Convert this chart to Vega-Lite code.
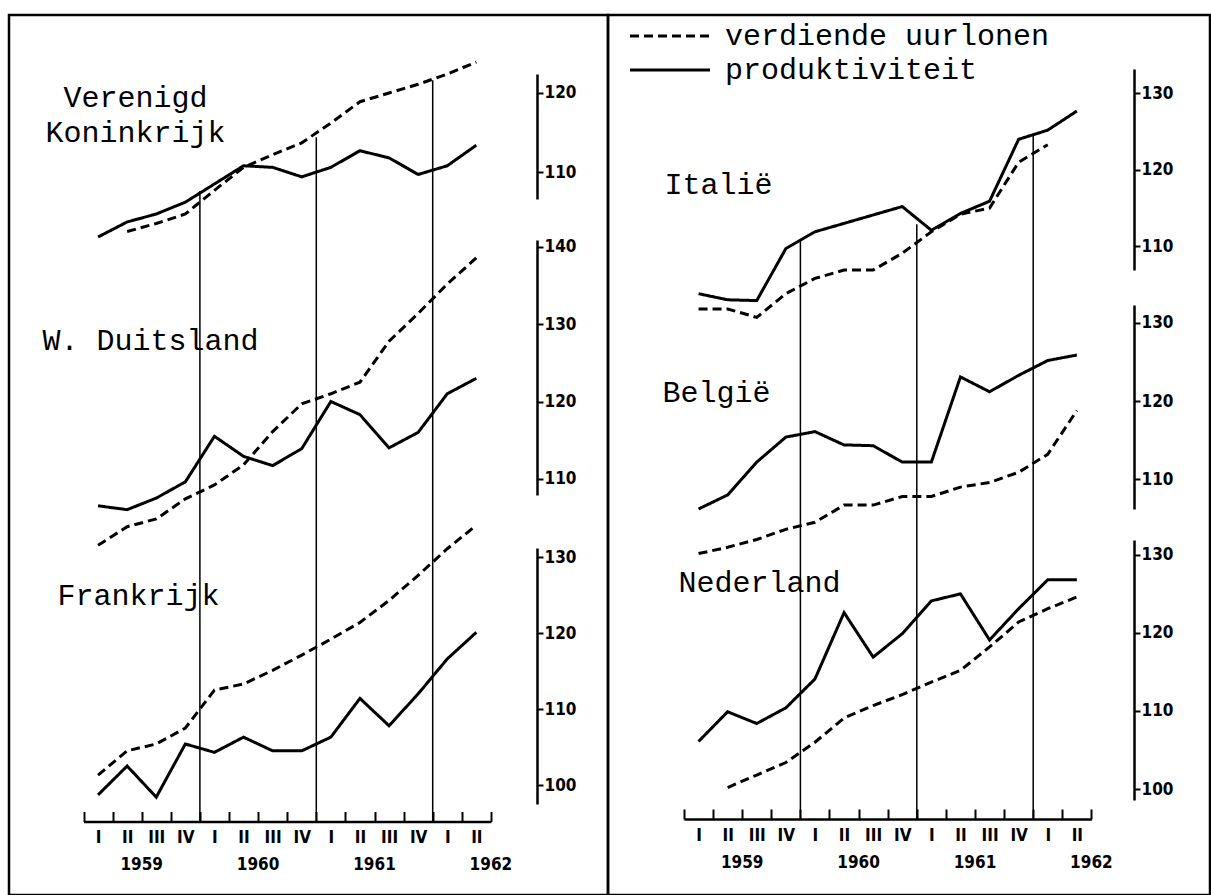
{
  "$schema": "https://vega.github.io/schema/vega-lite/v6.json",
  "background": "white",
  "padding": {"left": 7, "top": 13, "right": 0, "bottom": 0},
  "config": {
    "view": {"stroke": "black", "strokeWidth": 2.5},
    "axis": {"labelColor": "black", "domainColor": "black", "tickColor": "black", "titleColor": "black"},
    "font": "Liberation Mono"
  },
  "datasets": {
    "vk": [
      {"q": "1959-I", "series": "produktiviteit", "v": 101.8},
      {"q": "1959-II", "series": "produktiviteit", "v": 103.7},
      {"q": "1959-III", "series": "produktiviteit", "v": 104.7},
      {"q": "1959-IV", "series": "produktiviteit", "v": 106.2},
      {"q": "1960-I", "series": "produktiviteit", "v": 108.5},
      {"q": "1960-II", "series": "produktiviteit", "v": 110.8},
      {"q": "1960-III", "series": "produktiviteit", "v": 110.6},
      {"q": "1960-IV", "series": "produktiviteit", "v": 109.4},
      {"q": "1961-I", "series": "produktiviteit", "v": 110.6},
      {"q": "1961-II", "series": "produktiviteit", "v": 112.7},
      {"q": "1961-III", "series": "produktiviteit", "v": 111.8},
      {"q": "1961-IV", "series": "produktiviteit", "v": 109.7},
      {"q": "1962-I", "series": "produktiviteit", "v": 110.8},
      {"q": "1962-II", "series": "produktiviteit", "v": 113.4},
      {"q": "1959-II", "series": "verdiende uurlonen", "v": 102.5},
      {"q": "1959-III", "series": "verdiende uurlonen", "v": 103.5},
      {"q": "1959-IV", "series": "verdiende uurlonen", "v": 104.7},
      {"q": "1960-I", "series": "verdiende uurlonen", "v": 107.7},
      {"q": "1960-II", "series": "verdiende uurlonen", "v": 110.6},
      {"q": "1960-III", "series": "verdiende uurlonen", "v": 112.2},
      {"q": "1960-IV", "series": "verdiende uurlonen", "v": 113.7},
      {"q": "1961-I", "series": "verdiende uurlonen", "v": 116.2},
      {"q": "1961-II", "series": "verdiende uurlonen", "v": 118.9},
      {"q": "1961-III", "series": "verdiende uurlonen", "v": 120.0},
      {"q": "1961-IV", "series": "verdiende uurlonen", "v": 121.1},
      {"q": "1962-I", "series": "verdiende uurlonen", "v": 122.4},
      {"q": "1962-II", "series": "verdiende uurlonen", "v": 123.9}
    ],
    "wd": [
      {"q": "1959-I", "series": "produktiviteit", "v": 106.5},
      {"q": "1959-II", "series": "produktiviteit", "v": 106.0},
      {"q": "1959-III", "series": "produktiviteit", "v": 107.5},
      {"q": "1959-IV", "series": "produktiviteit", "v": 109.6},
      {"q": "1960-I", "series": "produktiviteit", "v": 115.5},
      {"q": "1960-II", "series": "produktiviteit", "v": 112.9},
      {"q": "1960-III", "series": "produktiviteit", "v": 111.7},
      {"q": "1960-IV", "series": "produktiviteit", "v": 113.9},
      {"q": "1961-I", "series": "produktiviteit", "v": 120.0},
      {"q": "1961-II", "series": "produktiviteit", "v": 118.3},
      {"q": "1961-III", "series": "produktiviteit", "v": 114.0},
      {"q": "1961-IV", "series": "produktiviteit", "v": 116.0},
      {"q": "1962-I", "series": "produktiviteit", "v": 121.0},
      {"q": "1962-II", "series": "produktiviteit", "v": 123.0},
      {"q": "1959-I", "series": "verdiende uurlonen", "v": 101.4},
      {"q": "1959-II", "series": "verdiende uurlonen", "v": 103.8},
      {"q": "1959-III", "series": "verdiende uurlonen", "v": 104.8},
      {"q": "1959-IV", "series": "verdiende uurlonen", "v": 107.4},
      {"q": "1960-I", "series": "verdiende uurlonen", "v": 109.2},
      {"q": "1960-II", "series": "verdiende uurlonen", "v": 111.8},
      {"q": "1960-III", "series": "verdiende uurlonen", "v": 116.1},
      {"q": "1960-IV", "series": "verdiende uurlonen", "v": 119.7},
      {"q": "1961-I", "series": "verdiende uurlonen", "v": 121.0},
      {"q": "1961-II", "series": "verdiende uurlonen", "v": 122.5},
      {"q": "1961-III", "series": "verdiende uurlonen", "v": 127.8},
      {"q": "1961-IV", "series": "verdiende uurlonen", "v": 131.4},
      {"q": "1962-I", "series": "verdiende uurlonen", "v": 135.2},
      {"q": "1962-II", "series": "verdiende uurlonen", "v": 138.6}
    ],
    "fr": [
      {"q": "1959-I", "series": "produktiviteit", "v": 98.7},
      {"q": "1959-II", "series": "produktiviteit", "v": 102.5},
      {"q": "1959-III", "series": "produktiviteit", "v": 98.4},
      {"q": "1959-IV", "series": "produktiviteit", "v": 105.4},
      {"q": "1960-I", "series": "produktiviteit", "v": 104.3},
      {"q": "1960-II", "series": "produktiviteit", "v": 106.3},
      {"q": "1960-III", "series": "produktiviteit", "v": 104.5},
      {"q": "1960-IV", "series": "produktiviteit", "v": 104.5},
      {"q": "1961-I", "series": "produktiviteit", "v": 106.3},
      {"q": "1961-II", "series": "produktiviteit", "v": 111.4},
      {"q": "1961-III", "series": "produktiviteit", "v": 107.8},
      {"q": "1961-IV", "series": "produktiviteit", "v": 112.0},
      {"q": "1962-I", "series": "produktiviteit", "v": 116.6},
      {"q": "1962-II", "series": "produktiviteit", "v": 120.1},
      {"q": "1959-I", "series": "verdiende uurlonen", "v": 101.3},
      {"q": "1959-II", "series": "verdiende uurlonen", "v": 104.5},
      {"q": "1959-III", "series": "verdiende uurlonen", "v": 105.4},
      {"q": "1959-IV", "series": "verdiende uurlonen", "v": 107.5},
      {"q": "1960-I", "series": "verdiende uurlonen", "v": 112.5},
      {"q": "1960-II", "series": "verdiende uurlonen", "v": 113.3},
      {"q": "1960-III", "series": "verdiende uurlonen", "v": 115.1},
      {"q": "1960-IV", "series": "verdiende uurlonen", "v": 117.1},
      {"q": "1961-I", "series": "verdiende uurlonen", "v": 119.2},
      {"q": "1961-II", "series": "verdiende uurlonen", "v": 121.4},
      {"q": "1961-III", "series": "verdiende uurlonen", "v": 124.3},
      {"q": "1961-IV", "series": "verdiende uurlonen", "v": 127.6},
      {"q": "1962-I", "series": "verdiende uurlonen", "v": 131.1},
      {"q": "1962-II", "series": "verdiende uurlonen", "v": 134.2}
    ],
    "it": [
      {"q": "1959-I", "series": "produktiviteit", "v": 103.8},
      {"q": "1959-II", "series": "produktiviteit", "v": 103.0},
      {"q": "1959-III", "series": "produktiviteit", "v": 102.9},
      {"q": "1959-IV", "series": "produktiviteit", "v": 109.7},
      {"q": "1960-I", "series": "produktiviteit", "v": 111.9},
      {"q": "1960-II", "series": "produktiviteit", "v": 113.0},
      {"q": "1960-III", "series": "produktiviteit", "v": 114.1},
      {"q": "1960-IV", "series": "produktiviteit", "v": 115.2},
      {"q": "1961-I", "series": "produktiviteit", "v": 112.1},
      {"q": "1961-II", "series": "produktiviteit", "v": 114.3},
      {"q": "1961-III", "series": "produktiviteit", "v": 115.9},
      {"q": "1961-IV", "series": "produktiviteit", "v": 124.0},
      {"q": "1962-I", "series": "produktiviteit", "v": 125.2},
      {"q": "1962-II", "series": "produktiviteit", "v": 127.7},
      {"q": "1959-I", "series": "verdiende uurlonen", "v": 101.8},
      {"q": "1959-II", "series": "verdiende uurlonen", "v": 101.8},
      {"q": "1959-III", "series": "verdiende uurlonen", "v": 100.7},
      {"q": "1959-IV", "series": "verdiende uurlonen", "v": 103.8},
      {"q": "1960-I", "series": "verdiende uurlonen", "v": 105.8},
      {"q": "1960-II", "series": "verdiende uurlonen", "v": 106.9},
      {"q": "1960-III", "series": "verdiende uurlonen", "v": 106.9},
      {"q": "1960-IV", "series": "verdiende uurlonen", "v": 109.1},
      {"q": "1961-I", "series": "verdiende uurlonen", "v": 111.9},
      {"q": "1961-II", "series": "verdiende uurlonen", "v": 114.2},
      {"q": "1961-III", "series": "verdiende uurlonen", "v": 115.0},
      {"q": "1961-IV", "series": "verdiende uurlonen", "v": 121.0},
      {"q": "1962-I", "series": "verdiende uurlonen", "v": 123.3}
    ],
    "be": [
      {"q": "1959-I", "series": "produktiviteit", "v": 106.2},
      {"q": "1959-II", "series": "produktiviteit", "v": 108.0},
      {"q": "1959-III", "series": "produktiviteit", "v": 112.2},
      {"q": "1959-IV", "series": "produktiviteit", "v": 115.4},
      {"q": "1960-I", "series": "produktiviteit", "v": 116.1},
      {"q": "1960-II", "series": "produktiviteit", "v": 114.4},
      {"q": "1960-III", "series": "produktiviteit", "v": 114.3},
      {"q": "1960-IV", "series": "produktiviteit", "v": 112.2},
      {"q": "1961-I", "series": "produktiviteit", "v": 112.2},
      {"q": "1961-II", "series": "produktiviteit", "v": 123.1},
      {"q": "1961-III", "series": "produktiviteit", "v": 121.2},
      {"q": "1961-IV", "series": "produktiviteit", "v": 123.3},
      {"q": "1962-I", "series": "produktiviteit", "v": 125.2},
      {"q": "1962-II", "series": "produktiviteit", "v": 125.9},
      {"q": "1959-I", "series": "verdiende uurlonen", "v": 100.5},
      {"q": "1959-II", "series": "verdiende uurlonen", "v": 101.3},
      {"q": "1959-III", "series": "verdiende uurlonen", "v": 102.3},
      {"q": "1959-IV", "series": "verdiende uurlonen", "v": 103.6},
      {"q": "1960-I", "series": "verdiende uurlonen", "v": 104.5},
      {"q": "1960-II", "series": "verdiende uurlonen", "v": 106.7},
      {"q": "1960-III", "series": "verdiende uurlonen", "v": 106.7},
      {"q": "1960-IV", "series": "verdiende uurlonen", "v": 107.8},
      {"q": "1961-I", "series": "verdiende uurlonen", "v": 107.8},
      {"q": "1961-II", "series": "verdiende uurlonen", "v": 109.0},
      {"q": "1961-III", "series": "verdiende uurlonen", "v": 109.6},
      {"q": "1961-IV", "series": "verdiende uurlonen", "v": 110.9},
      {"q": "1962-I", "series": "verdiende uurlonen", "v": 113.2},
      {"q": "1962-II", "series": "verdiende uurlonen", "v": 118.8}
    ],
    "nl": [
      {"q": "1959-I", "series": "produktiviteit", "v": 106.1},
      {"q": "1959-II", "series": "produktiviteit", "v": 109.9},
      {"q": "1959-III", "series": "produktiviteit", "v": 108.4},
      {"q": "1959-IV", "series": "produktiviteit", "v": 110.4},
      {"q": "1960-I", "series": "produktiviteit", "v": 114.1},
      {"q": "1960-II", "series": "produktiviteit", "v": 122.6},
      {"q": "1960-III", "series": "produktiviteit", "v": 116.9},
      {"q": "1960-IV", "series": "produktiviteit", "v": 119.9},
      {"q": "1961-I", "series": "produktiviteit", "v": 124.1},
      {"q": "1961-II", "series": "produktiviteit", "v": 125.0},
      {"q": "1961-III", "series": "produktiviteit", "v": 119.1},
      {"q": "1961-IV", "series": "produktiviteit", "v": 123.1},
      {"q": "1962-I", "series": "produktiviteit", "v": 126.8},
      {"q": "1962-II", "series": "produktiviteit", "v": 126.8},
      {"q": "1959-II", "series": "verdiende uurlonen", "v": 100.2},
      {"q": "1959-III", "series": "verdiende uurlonen", "v": 101.8},
      {"q": "1959-IV", "series": "verdiende uurlonen", "v": 103.4},
      {"q": "1960-I", "series": "verdiende uurlonen", "v": 106.0},
      {"q": "1960-II", "series": "verdiende uurlonen", "v": 109.1},
      {"q": "1960-III", "series": "verdiende uurlonen", "v": 110.7},
      {"q": "1960-IV", "series": "verdiende uurlonen", "v": 112.1},
      {"q": "1961-I", "series": "verdiende uurlonen", "v": 113.7},
      {"q": "1961-II", "series": "verdiende uurlonen", "v": 115.2},
      {"q": "1961-III", "series": "verdiende uurlonen", "v": 118.2},
      {"q": "1961-IV", "series": "verdiende uurlonen", "v": 121.4},
      {"q": "1962-I", "series": "verdiende uurlonen", "v": 123.1},
      {"q": "1962-II", "series": "verdiende uurlonen", "v": 124.6}
    ],
    "rl": [
      {"q": "1960-I", "top": 107.6},
      {"q": "1961-I", "top": 114.4},
      {"q": "1962-I", "top": 121.6}
    ],
    "rr": [
      {"q": "1960-I", "top": 110.8},
      {"q": "1961-I", "top": 112.9},
      {"q": "1962-I", "top": 124.6}
    ]
  },
  "hconcat": [
    {
      "width": 599,
      "height": 880,
      "resolve": {"scale": {"y": "independent"}, "axis": {"x": "independent"}},
      "layer": [
        {
          "data": {"name": "vk"},
          "mark": {"type": "line", "color": "black", "strokeWidth": 3, "strokeCap": "butt"},
          "encoding": {
            "x": {"field": "q", "type": "ordinal", "scale": {"type": "band", "domain": ["1959-I","1959-II","1959-III","1959-IV","1960-I","1960-II","1960-III","1960-IV","1961-I","1961-II","1961-III","1961-IV","1962-I","1962-II"], "range": [74.5, 481.9], "paddingInner": 0, "paddingOuter": 0}, "axis": {"orient": "bottom", "offset": -73.5, "tickBand": "extent", "tickSize": -10, "tickWidth": 2, "domainWidth": 2.5, "labelFont": "DejaVu Sans Condensed, sans-serif", "labelFontSize": 17, "labelFontWeight": "bold", "labelPadding": 18, "labelAngle": 0, "labelOverlap": false, "labelExpr": "split(datum.value, '-')[1]", "title": null, "grid": false}},
            "y": {"field": "v", "type": "quantitative", "scale": {"domain": [106.6, 122.4], "range": [184, 59], "nice": false, "zero": false}, "axis": {"orient": "right", "offset": -71, "values": [110, 120], "tickSize": 6, "tickWidth": 2, "domainWidth": 2.5, "labelPadding": 1, "labelFont": "DejaVu Sans Condensed, sans-serif", "labelFontSize": 17, "labelFontWeight": "bold", "grid": false, "labelOverlap": false, "title": ["Verenigd", "Koninkrijk"], "titleFont": "Liberation Mono", "titleFontSize": 30, "titleFontWeight": "normal", "titleAngle": 0, "titleAlign": "center", "titleBaseline": "alphabetic", "titleX": -402, "titleY": 91, "titleLineHeight": 35, "titleLimit": 1000}},
            "strokeDash": {"field": "series", "type": "nominal", "scale": {"domain": ["verdiende uurlonen", "produktiviteit"], "range": [[9, 5], [1, 0]]}, "legend": null}
          }
        },
        {
          "data": {"name": "rl"},
          "mark": {"type": "rule", "color": "black", "strokeWidth": 1.5},
          "encoding": {
            "x": {"field": "q", "type": "ordinal", "bandPosition": 0, "scale": {"type": "band", "domain": ["1959-I","1959-II","1959-III","1959-IV","1960-I","1960-II","1960-III","1960-IV","1961-I","1961-II","1961-III","1961-IV","1962-I","1962-II"], "range": [74.5, 481.9], "paddingInner": 0, "paddingOuter": 0}, "axis": {"orient": "bottom", "offset": -73.5, "values": ["1959-II", "1960-II", "1961-II", "1962-II"], "ticks": false, "tickSize": 0, "domain": false, "labelOffset": 14.55, "labelFont": "DejaVu Sans Condensed, sans-serif", "labelFontSize": 17, "labelFontWeight": "bold", "labelPadding": 35, "labelAngle": 0, "labelOverlap": false, "labelExpr": "split(datum.value, '-')[0]", "title": null, "grid": false}},
            "y": {"field": "top", "type": "quantitative", "scale": {"domain": [106.6, 122.4], "range": [184, 59], "nice": false, "zero": false}, "axis": null},
            "y2": {"datum": 27.92}
          }
        },
        {
          "data": {"name": "wd"},
          "mark": {"type": "line", "color": "black", "strokeWidth": 3, "strokeCap": "butt"},
          "encoding": {
            "x": {"field": "q", "type": "ordinal", "scale": {"type": "band", "domain": ["1959-I","1959-II","1959-III","1959-IV","1960-I","1960-II","1960-III","1960-IV","1961-I","1961-II","1961-III","1961-IV","1962-I","1962-II"], "range": [74.5, 481.9], "paddingInner": 0, "paddingOuter": 0}, "axis": null},
            "y": {"field": "v", "type": "quantitative", "scale": {"domain": [107.9, 140.9], "range": [480, 225], "nice": false, "zero": false}, "axis": {"orient": "right", "offset": -71, "values": [110, 120, 130, 140], "tickSize": 6, "tickWidth": 2, "domainWidth": 2.5, "labelPadding": 1, "labelFont": "DejaVu Sans Condensed, sans-serif", "labelFontSize": 17, "labelFontWeight": "bold", "grid": false, "labelOverlap": false, "title": "W. Duitsland", "titleFont": "Liberation Mono", "titleFontSize": 30, "titleFontWeight": "normal", "titleAngle": 0, "titleAlign": "left", "titleBaseline": "alphabetic", "titleX": -495, "titleY": 334, "titleLimit": 1000}},
            "strokeDash": {"field": "series", "type": "nominal", "scale": {"domain": ["verdiende uurlonen", "produktiviteit"], "range": [[9, 5], [1, 0]]}, "legend": null}
          }
        },
        {
          "data": {"name": "fr"},
          "mark": {"type": "line", "color": "black", "strokeWidth": 3, "strokeCap": "butt"},
          "encoding": {
            "x": {"field": "q", "type": "ordinal", "scale": {"type": "band", "domain": ["1959-I","1959-II","1959-III","1959-IV","1960-I","1960-II","1960-III","1960-IV","1961-I","1961-II","1961-III","1961-IV","1962-I","1962-II"], "range": [74.5, 481.9], "paddingInner": 0, "paddingOuter": 0}, "axis": null},
            "y": {"field": "v", "type": "quantitative", "scale": {"domain": [97.5, 131.2], "range": [789, 533], "nice": false, "zero": false}, "axis": {"orient": "right", "offset": -71, "values": [100, 110, 120, 130], "tickSize": 6, "tickWidth": 2, "domainWidth": 2.5, "labelPadding": 1, "labelFont": "DejaVu Sans Condensed, sans-serif", "labelFontSize": 17, "labelFontWeight": "bold", "grid": false, "labelOverlap": false, "title": "Frankrijk", "titleFont": "Liberation Mono", "titleFontSize": 30, "titleFontWeight": "normal", "titleAngle": 0, "titleAlign": "left", "titleBaseline": "alphabetic", "titleX": -480, "titleY": 589, "titleLimit": 1000}},
            "strokeDash": {"field": "series", "type": "nominal", "scale": {"domain": ["verdiende uurlonen", "produktiviteit"], "range": [[9, 5], [1, 0]]}, "legend": null}
          }
        }
      ]
    },
    {
      "width": 602,
      "height": 880,
      "resolve": {"scale": {"y": "independent"}, "axis": {"x": "independent"}},
      "layer": [
        {
          "data": {"name": "it"},
          "mark": {"type": "line", "color": "black", "strokeWidth": 3, "strokeCap": "butt"},
          "encoding": {
            "x": {"field": "q", "type": "ordinal", "scale": {"type": "band", "domain": ["1959-I","1959-II","1959-III","1959-IV","1960-I","1960-II","1960-III","1960-IV","1961-I","1961-II","1961-III","1961-IV","1962-I","1962-II"], "range": [76, 483.4], "paddingInner": 0, "paddingOuter": 0}, "axis": {"orient": "bottom", "offset": -76, "tickBand": "extent", "tickSize": -10, "tickWidth": 2, "domainWidth": 2.5, "labelFont": "DejaVu Sans Condensed, sans-serif", "labelFontSize": 17, "labelFontWeight": "bold", "labelPadding": 18, "labelAngle": 0, "labelOverlap": false, "labelExpr": "split(datum.value, '-')[1]", "title": null, "grid": false}},
            "y": {"field": "v", "type": "quantitative", "scale": {"domain": [106.9, 133.2], "range": [255, 54], "nice": false, "zero": false}, "axis": {"orient": "right", "offset": -76, "values": [110, 120, 130], "tickSize": 6, "tickWidth": 2, "domainWidth": 2.5, "labelPadding": 1, "labelFont": "DejaVu Sans Condensed, sans-serif", "labelFontSize": 17, "labelFontWeight": "bold", "grid": false, "labelOverlap": false, "title": "Italië", "titleFont": "Liberation Mono", "titleFontSize": 30, "titleFontWeight": "normal", "titleAngle": 0, "titleAlign": "left", "titleBaseline": "alphabetic", "titleX": -470, "titleY": 178, "titleLimit": 1000}},
            "strokeDash": {"field": "series", "type": "nominal", "scale": {"domain": ["verdiende uurlonen", "produktiviteit"], "range": [[9, 5], [1, 0]]}, "legend": {"orient": "none", "legendX": 47, "legendY": 6, "title": null, "direction": "vertical", "symbolType": "M-4,0H4", "symbolSize": 400, "symbolStrokeWidth": 3, "symbolStrokeColor": "black", "labelFont": "Liberation Mono", "labelFontSize": 30, "labelFontWeight": "normal", "labelColor": "black", "labelOffset": 40, "rowPadding": 4, "labelLimit": 1000}}
          }
        },
        {
          "data": {"name": "rr"},
          "mark": {"type": "rule", "color": "black", "strokeWidth": 1.5},
          "encoding": {
            "x": {"field": "q", "type": "ordinal", "bandPosition": 0, "scale": {"type": "band", "domain": ["1959-I","1959-II","1959-III","1959-IV","1960-I","1960-II","1960-III","1960-IV","1961-I","1961-II","1961-III","1961-IV","1962-I","1962-II"], "range": [76, 483.4], "paddingInner": 0, "paddingOuter": 0}, "axis": {"orient": "bottom", "offset": -76, "values": ["1959-II", "1960-II", "1961-II", "1962-II"], "ticks": false, "tickSize": 0, "domain": false, "labelOffset": 14.55, "labelFont": "DejaVu Sans Condensed, sans-serif", "labelFontSize": 17, "labelFontWeight": "bold", "labelPadding": 35, "labelAngle": 0, "labelOverlap": false, "labelExpr": "split(datum.value, '-')[0]", "title": null, "grid": false}},
            "y": {"field": "top", "type": "quantitative", "scale": {"domain": [106.9, 133.2], "range": [255, 54], "nice": false, "zero": false}, "axis": null},
            "y2": {"datum": 35.07}
          }
        },
        {
          "data": {"name": "be"},
          "mark": {"type": "line", "color": "black", "strokeWidth": 3, "strokeCap": "butt"},
          "encoding": {
            "x": {"field": "q", "type": "ordinal", "scale": {"type": "band", "domain": ["1959-I","1959-II","1959-III","1959-IV","1960-I","1960-II","1960-III","1960-IV","1961-I","1961-II","1961-III","1961-IV","1962-I","1962-II"], "range": [76, 483.4], "paddingInner": 0, "paddingOuter": 0}, "axis": null},
            "y": {"field": "v", "type": "quantitative", "scale": {"domain": [106.2, 132.3], "range": [494, 290], "nice": false, "zero": false}, "axis": {"orient": "right", "offset": -76, "values": [110, 120, 130], "tickSize": 6, "tickWidth": 2, "domainWidth": 2.5, "labelPadding": 1, "labelFont": "DejaVu Sans Condensed, sans-serif", "labelFontSize": 17, "labelFontWeight": "bold", "grid": false, "labelOverlap": false, "title": "België", "titleFont": "Liberation Mono", "titleFontSize": 30, "titleFontWeight": "normal", "titleAngle": 0, "titleAlign": "left", "titleBaseline": "alphabetic", "titleX": -472, "titleY": 386, "titleLimit": 1000}},
            "strokeDash": {"field": "series", "type": "nominal", "scale": {"domain": ["verdiende uurlonen", "produktiviteit"], "range": [[9, 5], [1, 0]]}, "legend": {"orient": "none", "legendX": 47, "legendY": 6, "title": null, "direction": "vertical", "symbolType": "M-4,0H4", "symbolSize": 400, "symbolStrokeWidth": 3, "symbolStrokeColor": "black", "labelFont": "Liberation Mono", "labelFontSize": 30, "labelFontWeight": "normal", "labelColor": "black", "labelOffset": 40, "rowPadding": 4, "labelLimit": 1000}}
          }
        },
        {
          "data": {"name": "nl"},
          "mark": {"type": "line", "color": "black", "strokeWidth": 3, "strokeCap": "butt"},
          "encoding": {
            "x": {"field": "q", "type": "ordinal", "scale": {"type": "band", "domain": ["1959-I","1959-II","1959-III","1959-IV","1960-I","1960-II","1960-III","1960-IV","1961-I","1961-II","1961-III","1961-IV","1962-I","1962-II"], "range": [76, 483.4], "paddingInner": 0, "paddingOuter": 0}, "axis": null},
            "y": {"field": "v", "type": "quantitative", "scale": {"domain": [98.6, 131.9], "range": [785, 525], "nice": false, "zero": false}, "axis": {"orient": "right", "offset": -76, "values": [100, 110, 120, 130], "tickSize": 6, "tickWidth": 2, "domainWidth": 2.5, "labelPadding": 1, "labelFont": "DejaVu Sans Condensed, sans-serif", "labelFontSize": 17, "labelFontWeight": "bold", "grid": false, "labelOverlap": false, "title": "Nederland", "titleFont": "Liberation Mono", "titleFontSize": 30, "titleFontWeight": "normal", "titleAngle": 0, "titleAlign": "left", "titleBaseline": "alphabetic", "titleX": -456, "titleY": 576, "titleLimit": 1000}},
            "strokeDash": {"field": "series", "type": "nominal", "scale": {"domain": ["verdiende uurlonen", "produktiviteit"], "range": [[9, 5], [1, 0]]}, "legend": {"orient": "none", "legendX": 47, "legendY": 6, "title": null, "direction": "vertical", "symbolType": "M-4,0H4", "symbolSize": 400, "symbolStrokeWidth": 3, "symbolStrokeColor": "black", "labelFont": "Liberation Mono", "labelFontSize": 30, "labelFontWeight": "normal", "labelColor": "black", "labelOffset": 40, "rowPadding": 4, "labelLimit": 1000}}
          }
        }
      ]
    }
  ],
  "spacing": 0,
  "bounds": "flush",
  "resolve": {"scale": {"x": "independent", "y": "independent", "strokeDash": "independent"}, "legend": {"strokeDash": "independent"}}
}
